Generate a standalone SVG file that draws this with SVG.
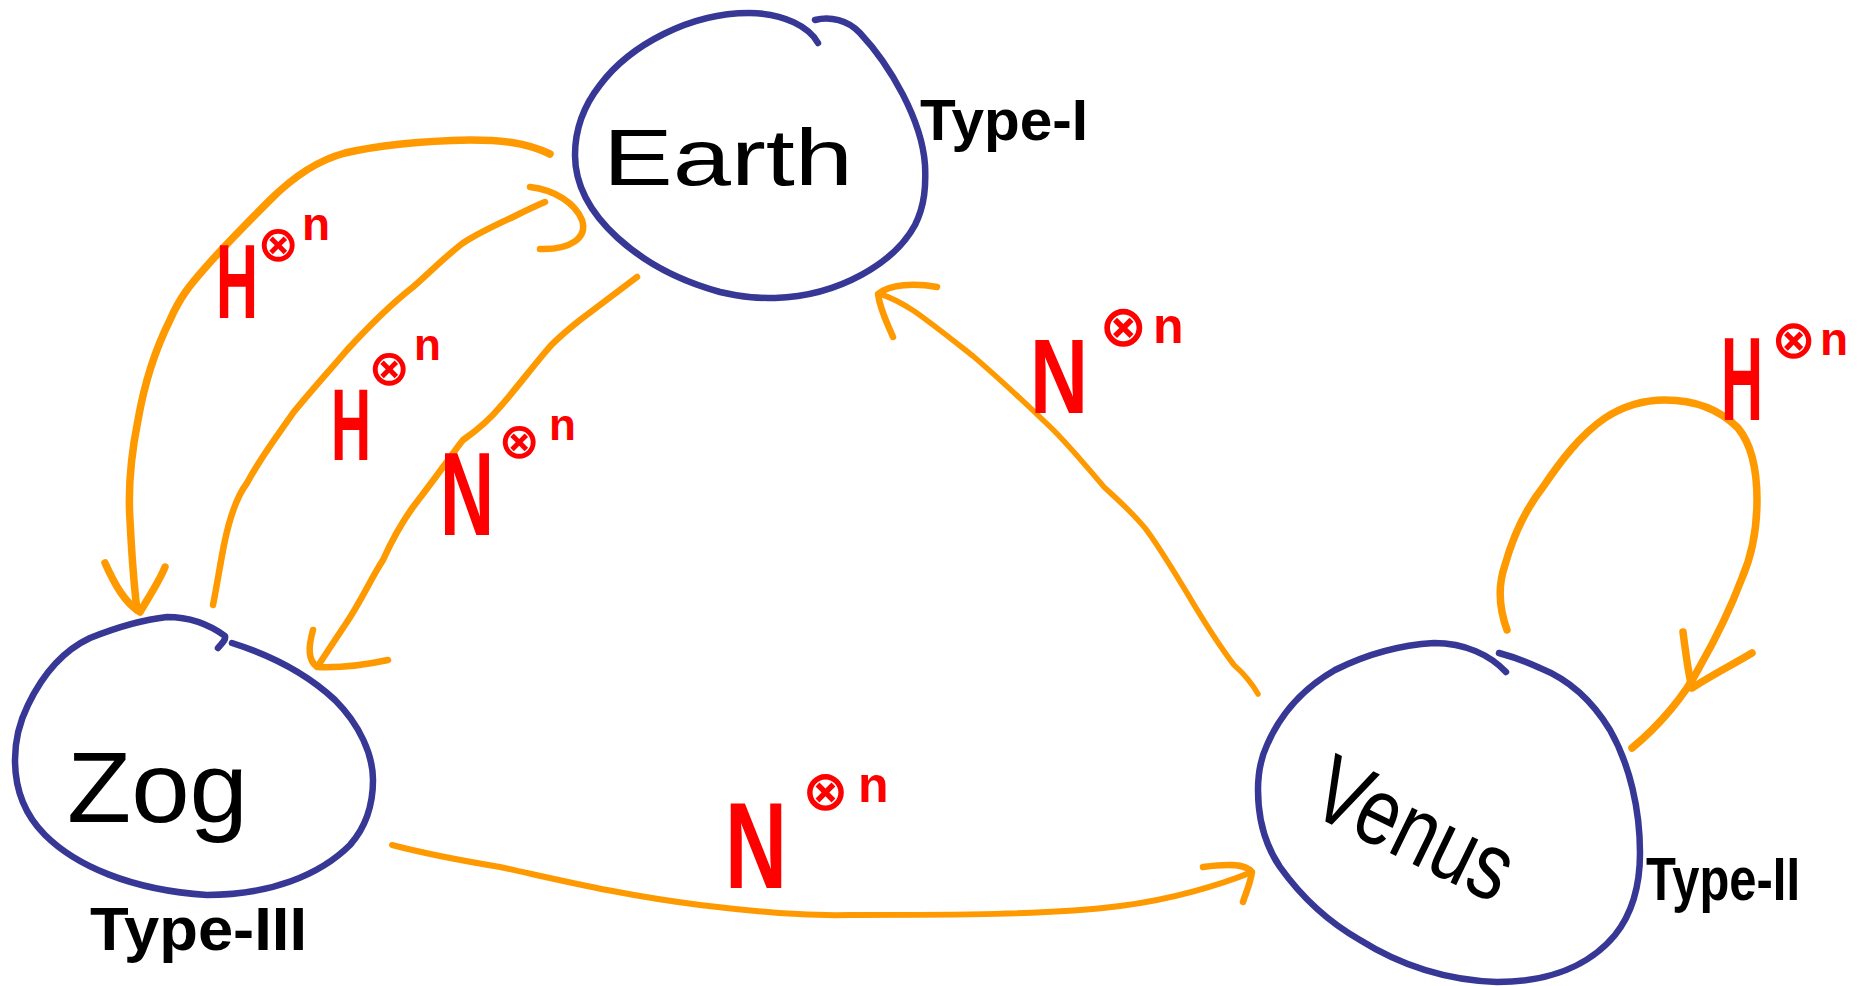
<svg xmlns="http://www.w3.org/2000/svg" width="1861" height="986" viewBox="0 0 1861 986">
<style>
.node{fill:none;stroke:#373896;stroke-width:6.5;stroke-linecap:round;stroke-linejoin:round}
.arr{fill:none;stroke:#ff9900;stroke-linecap:round;stroke-linejoin:round}
.name{font-family:"Liberation Sans",Arial,sans-serif;fill:#000}
.type{font-family:"Liberation Sans",Arial,sans-serif;font-weight:bold;fill:#000}
.lb{font-family:"Liberation Sans",Arial,sans-serif;font-weight:bold;fill:#ff0000}
.op{font-family:"DejaVu Sans",sans-serif;font-weight:bold}
</style>
<rect width="1861" height="986" fill="#fff"/>
<g id="connectors">
  <g id="earth-zog-outer">
    <path class="arr" stroke-width="7.5" d="M550,154 C525,142 500,140 470,140 C420,141 380,145 345,153 C315,161 290,180 270,200 C250,220 225,245 205,268 C190,285 180,297 170,320 C155,350 145,380 138,420 C130,460 128,490 130,520 C132,560 134,585 137,610"/>
    <path class="arr" stroke-width="7.5" d="M105,563 C115,585 125,603 140,612 C150,595 160,580 165,567"/>
  </g>
  <g id="zog-earth">
    <path class="arr" stroke-width="6.5" d="M213,605 C217,585 220,565 224,545 C230,515 238,495 247,483 C262,455 278,435 293,413 C310,392 330,370 347,350 C370,325 390,305 413,287 C430,272 447,255 463,243 C480,232 498,224 513,217 C525,211 535,206 545,202"/>
    <path class="arr" stroke-width="6.5" d="M530,187 C555,190 575,203 582,220 C588,238 570,250 540,249"/>
  </g>
  <g id="earth-zog-inner">
    <path class="arr" stroke-width="6.5" d="M637,277 C620,290 600,305 580,320 C565,332 555,340 547,350 C530,370 515,390 500,407 C485,425 470,435 463,440 C455,450 450,458 443,467 C430,485 422,495 413,507 C400,525 392,540 383,560 C370,580 362,600 345,625 C335,640 325,655 318,666"/>
    <path class="arr" stroke-width="6.5" d="M313,630 C308,648 308,660 317,667 C340,668 365,665 388,660"/>
  </g>
  <g id="zog-venus">
    <path class="arr" stroke-width="6" d="M392,845 C430,855 470,862 500,867 C560,880 620,895 700,905 C760,912 800,916 850,915 C950,915 1050,915 1120,906 C1170,900 1220,885 1252,872"/>
    <path class="arr" stroke-width="6.5" d="M1203,867 C1225,864 1245,863 1252,872 C1250,885 1245,895 1243,902"/>
  </g>
  <g id="venus-earth">
    <path class="arr" stroke-width="5.5" d="M1258,694 C1250,680 1242,672 1234,665 C1215,640 1200,615 1187,593 C1170,565 1158,545 1145,528 C1130,510 1118,500 1104,487 C1085,465 1065,440 1044,421 C1020,398 995,375 973,356 C950,338 930,322 914,311 C900,302 890,297 880,294"/>
    <path class="arr" stroke-width="6.5" d="M937,287 C915,283 890,284 878,294 C880,310 888,325 893,337"/>
  </g>
  <g id="venus-self">
    <path class="arr" stroke-width="7.5" d="M1507,630 C1498,605 1498,585 1505,565 C1512,540 1525,510 1543,487 C1560,462 1580,435 1605,418 C1625,405 1645,400 1665,400 C1695,400 1720,410 1738,428 C1752,445 1757,470 1757,500 C1757,530 1752,555 1742,578 C1730,610 1715,640 1699,668 C1685,695 1660,725 1632,748"/>
    <path class="arr" stroke-width="7.5" d="M1683,632 C1686,655 1688,672 1692,688 C1712,675 1732,665 1752,653"/>
  </g>
</g>
<g id="labels">
  <text class="lb"><tspan x="216" y="318" font-size="105" textLength="42" lengthAdjust="spacingAndGlyphs">H</tspan><tspan class="op" x="257" y="261" font-size="50">⊗</tspan><tspan x="302" y="240" font-size="46">n</tspan></text>
  <text class="lb"><tspan x="331" y="460" font-size="102" textLength="40" lengthAdjust="spacingAndGlyphs">H</tspan><tspan class="op" x="368" y="385" font-size="50">⊗</tspan><tspan x="414" y="360" font-size="44">n</tspan></text>
  <text class="lb"><tspan x="440" y="535" font-size="118" textLength="54" lengthAdjust="spacingAndGlyphs">N</tspan><tspan class="op" x="498" y="458" font-size="50">⊗</tspan><tspan x="549" y="440" font-size="44">n</tspan></text>
  <text class="lb"><tspan x="725" y="888" font-size="122" textLength="62" lengthAdjust="spacingAndGlyphs">N</tspan><tspan class="op" x="802" y="810" font-size="56">⊗</tspan><tspan x="858" y="802" font-size="50">n</tspan></text>
  <text class="lb"><tspan x="1030" y="413" font-size="106" textLength="58" lengthAdjust="spacingAndGlyphs">N</tspan><tspan class="op" x="1099" y="346" font-size="58">⊗</tspan><tspan x="1153" y="343" font-size="50">n</tspan></text>
  <text class="lb"><tspan x="1721" y="420" font-size="118" textLength="42" lengthAdjust="spacingAndGlyphs">H</tspan><tspan class="op" x="1771" y="358" font-size="54">⊗</tspan><tspan x="1820" y="355" font-size="46">n</tspan></text>
</g>
<g id="earth">
  <path class="node" d="M818,43 C810,28 785,13 749,13 C690,13 630,45 600,85 C582,108 575,130 575,155 C575,215 640,270 720,292 C745,298 760,298 775,298 C840,296 895,262 915,225 C925,205 926,185 925,165 C922,120 890,65 860,33 C848,20 830,16 815,20"/>
  <text class="name" x="603" y="185" font-size="80" textLength="250" lengthAdjust="spacingAndGlyphs">Earth</text>
  <text class="type" x="920" y="140" font-size="58" textLength="168" lengthAdjust="spacingAndGlyphs">Type-I</text>
</g>
<g id="zog">
  <path class="node" d="M218,648 C222,643 226,640 225,636 C210,625 190,617 167,617 C140,620 115,628 90,638 C60,652 40,680 28,705 C18,725 15,745 15,760 C15,790 25,815 45,835 C75,865 130,890 207,895 C270,895 320,875 350,845 C365,828 373,805 373,780 C373,755 360,725 335,700 C305,672 270,655 232,643"/>
  <text class="name" x="67" y="822" font-size="100" textLength="181" lengthAdjust="spacingAndGlyphs">Zog</text>
  <text class="type" x="90" y="950" font-size="62" textLength="217" lengthAdjust="spacingAndGlyphs">Type-III</text>
</g>
<g id="venus">
  <path class="node" d="M1506,672 C1490,655 1465,643 1434,643 C1400,645 1365,655 1335,670 C1300,690 1280,715 1267,745 C1260,760 1258,775 1258,790 C1258,820 1265,845 1280,867 C1300,895 1325,920 1360,940 C1395,962 1440,980 1497,982 C1550,982 1590,965 1615,935 C1635,910 1640,880 1640,853 C1640,810 1630,765 1610,730 C1590,697 1565,678 1540,668 C1525,661 1510,656 1499,653"/>
  <text class="name" x="1306" y="812" font-size="96" textLength="210" lengthAdjust="spacingAndGlyphs" transform="rotate(26 1306 812)">Venus</text>
  <text class="type" x="1646" y="900" font-size="62" textLength="154" lengthAdjust="spacingAndGlyphs">Type-II</text>
</g>
</svg>
